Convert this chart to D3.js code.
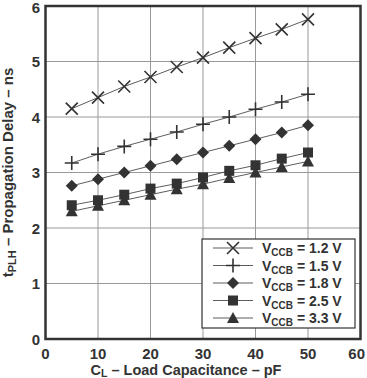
<!DOCTYPE html>
<html>
<head>
<meta charset="utf-8">
<script src="https://cdn.jsdelivr.net/npm/d3@7"></script>
<style>
  body { margin: 0; background: #fff; }
  text { font-family: "Liberation Sans", Arial, sans-serif; font-weight: bold; fill: #333; }
</style>
</head>
<body>
<svg id="chart" width="367" height="378"></svg>
<script>
// load capacitance (pF)
var loads = [5, 10, 15, 20, 25, 30, 35, 40, 45, 50];
// propagation delay tPLH (ns) per VCCB
var v12 = [4.15, 4.35, 4.55, 4.72, 4.90, 5.07, 5.25, 5.42, 5.58, 5.76];
var v15 = [3.17, 3.33, 3.47, 3.60, 3.73, 3.87, 4.00, 4.14, 4.27, 4.41];
var v18 = [2.76, 2.88, 3.00, 3.12, 3.24, 3.36, 3.48, 3.60, 3.72, 3.85];
var v25 = [2.41, 2.50, 2.60, 2.71, 2.80, 2.91, 3.03, 3.13, 3.25, 3.36];
var v33 = [2.30, 2.40, 2.50, 2.60, 2.70, 2.79, 2.90, 3.00, 3.10, 3.20];
var seriesNames = ["1.2 V", "1.5 V", "1.8 V", "2.5 V", "3.3 V"];
var seriesMarks = ["cross", "plus", "diamond", "square", "triangle"];
var xTicks = [0, 10, 20, 30, 40, 50, 60];
var yTicks = [0, 1, 2, 3, 4, 5, 6];

var series = [v12, v15, v18, v25, v33].map(function(vals, i) {
	return { name: seriesNames[i], mark: seriesMarks[i], values: vals };
});

var svg = d3.select("#chart");
var pLeft = 45.5, pRight = 360.5, pTop = 6, pBottom = 339;

var x = d3.scaleLinear().domain([0, 60]).range([pLeft, pRight]);
var y = d3.scaleLinear().domain([0, 6]).range([pBottom, pTop]);

// grid
svg.append("g").selectAll("line").data(xTicks.slice(1, -1)).enter().append("line")
	.attr("x1", function(d) { return x(d); }).attr("x2", function(d) { return x(d); })
	.attr("y1", pTop).attr("y2", pBottom)
	.attr("stroke", "#999").attr("stroke-width", 1);
svg.append("g").selectAll("line").data(yTicks.slice(1, -1)).enter().append("line")
	.attr("y1", function(d) { return y(d); }).attr("y2", function(d) { return y(d); })
	.attr("x1", pLeft).attr("x2", pRight)
	.attr("stroke", "#999").attr("stroke-width", 1);

// tick labels (last one pulled in so it stays on the page)
svg.append("g").selectAll("text").data(xTicks).enter().append("text")
	.attr("x", function(d) { return d == 60 ? 365 : x(d); }).attr("y", 359)
	.attr("text-anchor", function(d) { return d == 60 ? "end" : "middle"; })
	.attr("font-size", 15)
	.text(function(d) { return d; });
svg.append("g").selectAll("text").data(yTicks).enter().append("text")
	.attr("x", 40).attr("y", function(d) { return d == 6 ? y(d) + 6.5 : y(d) + 5.5; })
	.attr("text-anchor", "end").attr("font-size", 15)
	.text(function(d) { return d; });

// markers
function marker(g, type) {
	if (type == "cross") {
		g.append("path").attr("d", "M-6,-6L6,6M-6,6L6,-6").attr("stroke", "#333").attr("stroke-width", 1.6).attr("fill", "none");
	} else if (type == "plus") {
		g.append("path").attr("d", "M-7,0L7,0M0,-7L0,7").attr("stroke", "#333").attr("stroke-width", 1.6).attr("fill", "none");
	} else if (type == "diamond") {
		g.append("path").attr("d", "M0,-6L6,0L0,6L-6,0Z").attr("fill", "#333");
	} else if (type == "square") {
		g.append("rect").attr("x", -5).attr("y", -5).attr("width", 10).attr("height", 10).attr("fill", "#333");
	} else {
		g.append("path").attr("d", "M0,-6L6,5L-6,5Z").attr("fill", "#333");
	}
}

var line = d3.line()
	.x(function(d, i) { return x(loads[i]); })
	.y(function(d) { return y(d); });

series.forEach(function(s) {
	svg.append("path").attr("d", line(s.values))
		.attr("fill", "none").attr("stroke", "#333").attr("stroke-width", 0.8);
	s.values.forEach(function(v, i) {
		var g = svg.append("g").attr("transform", "translate(" + x(loads[i]) + "," + y(v) + ")");
		marker(g, s.mark);
	});
});

// frame
svg.append("rect").attr("x", pLeft).attr("y", pTop)
	.attr("width", pRight - pLeft).attr("height", pBottom - pTop)
	.attr("fill", "none").attr("stroke", "#333").attr("stroke-width", 2.5);

// legend
var lg = svg.append("g");
lg.append("rect").attr("x", 202).attr("y", 239).attr("width", 153).attr("height", 89)
	.attr("fill", "#fff").attr("stroke", "#333").attr("stroke-width", 1.2);
series.forEach(function(s, i) {
	var ly = 248 + i * 17.5;
	lg.append("line").attr("x1", 213).attr("x2", 253).attr("y1", ly).attr("y2", ly)
		.attr("stroke", "#333").attr("stroke-width", 0.8);
	marker(lg.append("g").attr("transform", "translate(233," + ly + ")"), s.mark);
	var t = lg.append("text").attr("x", 262).attr("y", ly + 5).attr("font-size", 14);
	t.append("tspan").text("V");
	t.append("tspan").attr("font-size", 10).attr("dy", 3).text("CCB");
	t.append("tspan").attr("dy", -3).text(" = " + s.name);
});

// axis titles
var xt = svg.append("text").attr("x", 186).attr("y", 374.5).attr("text-anchor", "middle").attr("font-size", 14.5);
xt.append("tspan").text("C");
xt.append("tspan").attr("font-size", 10.5).attr("dy", 2.5).text("L");
xt.append("tspan").attr("dy", -2.5).text(" \u2013 Load Capacitance \u2013 pF");

var yt = svg.append("text").attr("transform", "translate(13," + ((pTop + pBottom) / 2) + ") rotate(-90)")
	.attr("text-anchor", "middle").attr("font-size", 15);
yt.append("tspan").text("t");
yt.append("tspan").attr("font-size", 11).attr("dy", 3).text("PLH");
yt.append("tspan").attr("dy", -3).text(" \u2013 Propagation Delay \u2013 ns");
</script>
</body>
</html>
